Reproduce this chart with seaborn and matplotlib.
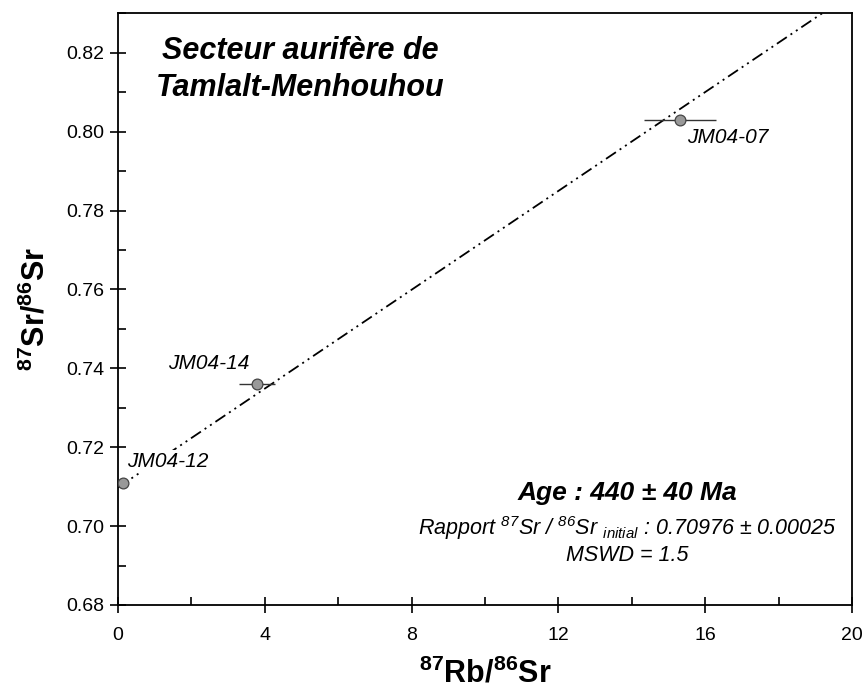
import numpy as np
import pandas as pd
import matplotlib
matplotlib.use("Agg")
import matplotlib.pyplot as plt
import seaborn as sns

# ---- data ----
samples = ["JM04-12", "JM04-14", "JM04-07"]
rb_sr = [0.15, 3.79, 15.31]          # 87Rb/86Sr
sr_sr = [0.711, 0.736, 0.803]         # 87Sr/86Sr
rb_err = [0.05, 0.48, 0.97]           # horizontal error (abs)
initial_ratio = 0.70976
age_ma = 440.0
decay_const = 1.42e-11                # 87Rb decay constant (1/yr)
x_limits = [0, 20]
y_limits = [0.68, 0.83]
x_ticks = [0, 4, 8, 12, 16, 20]
y_ticks = [0.68, 0.70, 0.72, 0.74, 0.76, 0.78, 0.80, 0.82]

df = pd.DataFrame({"sample": samples, "rb": rb_sr, "sr": sr_sr, "err": rb_err})

sns.set_theme(style="white")
plt.rcParams["font.family"] = ["Liberation Sans", "DejaVu Sans"]
plt.rcParams["mathtext.default"] = "regular"
plt.rcParams["text.color"] = "black"
plt.rcParams["axes.labelcolor"] = "black"

fig = plt.figure(figsize=(8.66, 6.99), dpi=100)
ax = fig.add_axes([0.136, 0.1345, 0.848, 0.8465])

# isochron line
slope = np.exp(decay_const * age_ma * 1e6) - 1
xl = np.linspace(x_limits[0], x_limits[1], 200)
line_df = pd.DataFrame({"x": xl, "y": initial_ratio + slope * xl})
sns.lineplot(data=line_df, x="x", y="y", ax=ax, color="black", lw=1.3,
             linestyle=(0, (6.6, 2.5, 1.1, 2.5, 1.1, 2.5)), zorder=2)

# error bars
ax.errorbar(df["rb"], df["sr"], xerr=df["err"], fmt="none", ecolor="#333333",
            elinewidth=1.0, capsize=0, zorder=3)
sns.scatterplot(data=df, x="rb", y="sr", ax=ax, color="#999999", edgecolor="#444444",
                s=60, linewidth=0.9, zorder=4)

# sample labels
lab_fs = 15
ax.text(df["rb"][0] + 0.1, df["sr"][0] + 0.003, samples[0], style="italic", fontsize=lab_fs,
        ha="left", va="bottom", zorder=5,
        bbox=dict(facecolor="white", edgecolor="none", pad=1.5))
ax.text(df["rb"][1] - 0.2, df["sr"][1] + 0.0027, samples[1], style="italic", fontsize=lab_fs,
        ha="right", va="bottom")
ax.text(df["rb"][2] + 0.2, df["sr"][2] - 0.002, samples[2], style="italic", fontsize=lab_fs,
        ha="left", va="top")

ax.set_xlim(x_limits)
ax.set_ylim(y_limits)
ax.set_xticks(x_ticks)
ax.set_yticks(y_ticks)
ax.set_xticks(np.arange(2, 20, 4), minor=True)
ax.set_yticks(np.arange(0.69, 0.83, 0.02), minor=True)
ax.set_yticklabels([f"{v:.2f}" for v in y_ticks])
ax.tick_params(which="both", bottom=True, left=True, top=False, right=False)
ax.tick_params(which="major", direction="inout", length=12, width=1.2, labelsize=14,
               colors="black", pad=4)
ax.tick_params(axis="x", which="major", pad=10)
ax.tick_params(which="minor", direction="in", length=6, width=1.2, colors="black")
for s in ax.spines.values():
    s.set_color("black")
    s.set_linewidth(1.3)

ax.set_xlabel(r"$^{87}$Rb/$^{86}$Sr", fontsize=22, fontweight="bold", labelpad=10)
ax.set_ylabel(r"$^{87}$Sr/$^{86}$Sr", fontsize=22, fontweight="bold", labelpad=10)

ax.text(0.248, 0.905, "Secteur aurifère de\nTamlalt-Menhouhou", transform=ax.transAxes,
        ha="center", va="center", fontsize=22, fontweight="bold", style="italic",
        linespacing=1.3)

ax.text(0.694, 0.19, "Age : 440 ± 40 Ma", transform=ax.transAxes, ha="center",
        va="center", fontsize=19, fontweight="bold", style="italic")
ax.text(0.694, 0.11, r"Rapport $^{87}$Sr / $^{86}$Sr $_{initial}$ : 0.70976 ± 0.00025"
        "\nMSWD = 1.5", transform=ax.transAxes, ha="center", va="center",
        fontsize=15.5, style="italic", linespacing=1.15)

fig.savefig("out.png", dpi=100)
